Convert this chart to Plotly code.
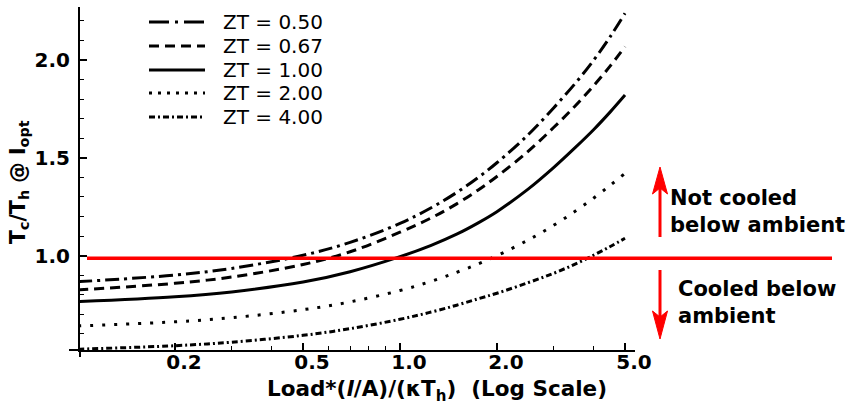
import plotly.graph_objects as go

# Normalised load (log axis) and Tc/Th at optimum current for each ZT
load = [0.1, 0.2, 0.3, 0.5, 0.7, 1.0, 1.25, 1.5, 1.75, 2.0, 2.5, 3.0, 3.5, 4.0, 4.5, 5.0]
zt_labels = ["ZT = 0.50", "ZT = 0.67", "ZT = 1.00", "ZT = 2.00", "ZT = 4.00"]
tc_zt050 = [0.867, 0.901, 0.935, 1.002, 1.068, 1.165, 1.245, 1.323, 1.400, 1.475,
            1.618, 1.755, 1.880, 2.000, 2.120, 2.239]
tc_zt067 = [0.825, 0.859, 0.891, 0.955, 1.020, 1.120, 1.193, 1.265, 1.336, 1.405,
            1.533, 1.655, 1.765, 1.870, 1.970, 2.068]
tc_zt100 = [0.765, 0.790, 0.815, 0.865, 0.918, 0.995, 1.053, 1.110, 1.168, 1.225,
            1.340, 1.450, 1.552, 1.645, 1.735, 1.821]
tc_zt200 = [0.641, 0.662, 0.683, 0.724, 0.764, 0.822, 0.869, 0.915, 0.958, 1.000,
            1.080, 1.155, 1.227, 1.295, 1.360, 1.421]
tc_zt400 = [0.522, 0.540, 0.558, 0.593, 0.627, 0.675, 0.712, 0.747, 0.780, 0.808,
            0.862, 0.910, 0.957, 1.003, 1.047, 1.089]
ambient_ratio = 0.987

x_ticks = [0.2, 0.5, 1.0, 2.0, 5.0]
x_ticktext = ["0.2", "0.5", "1.0", "2.0", "5.0"]
x_minor = [0.3, 0.4, 0.6, 0.7, 0.8, 0.9, 3.0, 4.0]
y_ticks = [1.0, 1.5, 2.0]
y_minor = [0.6, 0.7, 0.8, 0.9, 1.1, 1.2, 1.3, 1.4, 1.6, 1.7, 1.8, 1.9, 2.1, 2.2]

series = [tc_zt050, tc_zt067, tc_zt100, tc_zt200, tc_zt400]
curve_dash = ["14px,5px,3px,5px", "10px,6px", "solid", "3px,9px", "6px,3px,2px,3px"]
legend_dash = ["20px,6px,3px,6px", "10px,6px", "solid", "3px,6px", "6px,3px,2px,3px"]

FONT = "DejaVu Sans"
W, H = 861, 404
L, R, T, B = 80, 226, 7, 54
PW, PH = W - L - R, H - T - B


def px(xpix):
    return (xpix - L) / PW


def py(ypix):
    return (H - B - ypix) / PH


fig = go.Figure()
for name, vals, dash in zip(zt_labels, series, curve_dash):
    fig.add_trace(go.Scatter(
        x=load, y=vals, mode="lines", name=name, showlegend=False,
        line=dict(color="black", width=3, dash=dash, shape="spline", smoothing=1.0),
    ))

shapes = []
annotations = []

# hand-built legend in the upper-left corner
row_y = [22, 46, 70, 93, 117]
for name, dash, ry in zip(zt_labels, legend_dash, row_y):
    shapes.append(dict(type="line", xref="paper", yref="paper",
                       x0=px(149), x1=px(205), y0=py(ry), y1=py(ry),
                       line=dict(color="black", width=3, dash=dash)))
    annotations.append(dict(xref="paper", yref="paper", x=px(221), y=py(ry),
                            xanchor="left", yanchor="middle", showarrow=False,
                            text=name, font=dict(family=FONT, size=20, color="black")))

# ambient line, running past the plot into the annotation area
shapes.append(dict(type="line", xref="paper", yref="y", x0=px(87), x1=px(832),
                   y0=ambient_ratio, y1=ambient_ratio,
                   line=dict(color="#ff0000", width=3.5)))

# small overshoot of the axes at the origin corner
shapes.append(dict(type="line", xref="paper", yref="paper", x0=px(69), x1=0, y0=0, y1=0,
                   line=dict(color="black", width=2)))
shapes.append(dict(type="line", xref="paper", yref="paper", x0=0, x1=0, y0=py(357), y1=0,
                   line=dict(color="black", width=2)))

# red arrows
ax_pix = 660
shapes.append(dict(type="line", xref="paper", yref="paper", x0=px(ax_pix), x1=px(ax_pix),
                   y0=py(237), y1=py(188), line=dict(color="#ff0000", width=3)))
shapes.append(dict(type="path", xref="paper", yref="paper",
                   path=(f"M {px(ax_pix)} {py(167)} L {px(ax_pix + 7.5)} {py(194)} "
                         f"L {px(ax_pix)} {py(188)} L {px(ax_pix - 7.5)} {py(194)} Z"),
                   fillcolor="#ff0000", line=dict(color="#ff0000", width=1)))
shapes.append(dict(type="line", xref="paper", yref="paper", x0=px(ax_pix), x1=px(ax_pix),
                   y0=py(270), y1=py(318), line=dict(color="#ff0000", width=3)))
shapes.append(dict(type="path", xref="paper", yref="paper",
                   path=(f"M {px(ax_pix)} {py(339)} L {px(ax_pix + 7.5)} {py(311)} "
                         f"L {px(ax_pix)} {py(317)} L {px(ax_pix - 7.5)} {py(311)} Z"),
                   fillcolor="#ff0000", line=dict(color="#ff0000", width=1)))

annotations.append(dict(xref="paper", yref="paper", x=px(668), y=py(211),
                        xanchor="left", yanchor="middle", showarrow=False, align="left",
                        text="Not cooled<br>below ambient",
                        font=dict(family=FONT, size=21, color="black", weight="bold")))
annotations.append(dict(xref="paper", yref="paper", x=px(676), y=py(302),
                        xanchor="left", yanchor="middle", showarrow=False, align="left",
                        text="Cooled below<br>ambient",
                        font=dict(family=FONT, size=21, color="black", weight="bold")))

# axis titles
annotations.append(dict(xref="paper", yref="paper", x=px(437), y=py(390),
                        xanchor="center", yanchor="middle", showarrow=False,
                        text="Load*(<i>l</i>/A)/(κT<sub>h</sub>)\u00a0\u00a0(Log Scale)",
                        font=dict(family=FONT, size=21.5, color="black", weight="bold")))
annotations.append(dict(xref="paper", yref="paper", x=px(19), y=py(182),
                        xanchor="center", yanchor="middle", showarrow=False, textangle=-90,
                        text="T<sub>c</sub>/T<sub>h</sub> @ I<sub>opt</sub>",
                        font=dict(family=FONT, size=20.5, color="black", weight="bold")))

fig.update_layout(
    width=W, height=H, margin=dict(l=L, r=R, t=T, b=B),
    paper_bgcolor="white", plot_bgcolor="white",
    shapes=shapes, annotations=annotations, showlegend=False,
)
fig.update_xaxes(
    type="log", range=[-0.994, 0.730],
    showgrid=False, zeroline=False, showline=True, linecolor="black", linewidth=2,
    ticks="inside", ticklen=7, tickwidth=1.5, tickcolor="black",
    tickmode="array", tickvals=x_ticks, ticktext=x_ticktext,
    tickfont=dict(family=FONT, size=20, color="black", weight="bold"),
    ticklabelshift=9, ticklabelstandoff=-7,
    minor=dict(tickmode="array", tickvals=x_minor, ticks="inside", ticklen=4,
               tickwidth=1.2, tickcolor="black", showgrid=False),
)
fig.update_yaxes(
    range=[0.518, 2.271],
    showgrid=False, zeroline=False, showline=True, linecolor="black", linewidth=2,
    ticks="inside", ticklen=7, tickwidth=1.5, tickcolor="black",
    tickmode="array", tickvals=y_ticks, ticktext=["1.0", "1.5", "2.0"],
    tickfont=dict(family=FONT, size=20, color="black", weight="bold"),
    ticklabelstandoff=4,
    minor=dict(tickmode="array", tickvals=y_minor, ticks="inside", ticklen=4,
               tickwidth=1.2, tickcolor="black", showgrid=False),
)

fig.write_html("out.html")
